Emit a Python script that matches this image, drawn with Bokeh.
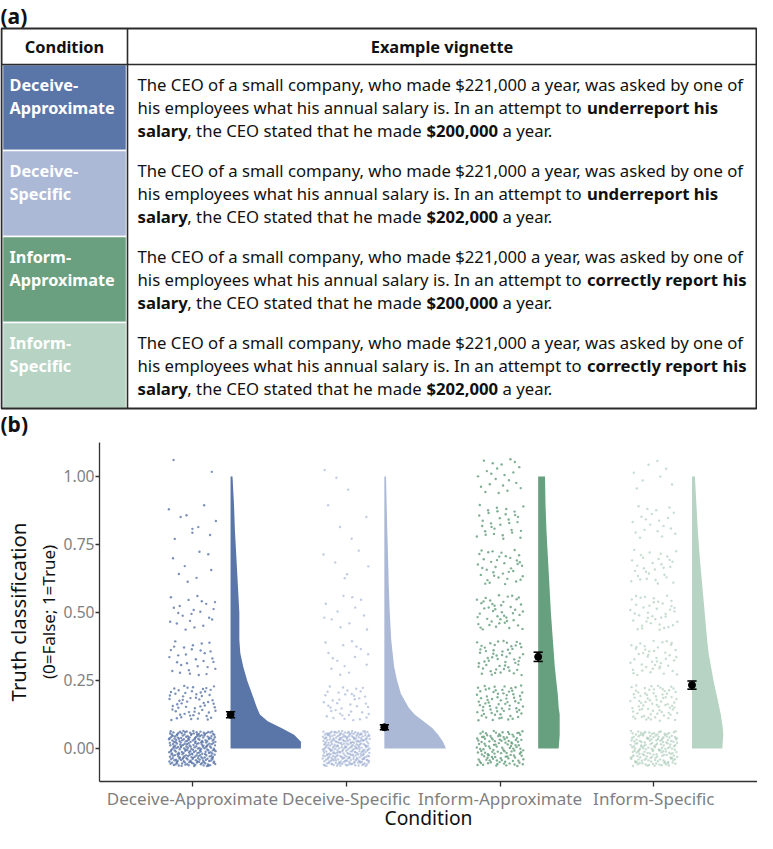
import os, struct, subprocess
from bokeh.plotting import figure
from bokeh.models import Range1d, FixedTicker, LinearAxis
from bokeh.layouts import column
from bokeh.embed import file_html
from bokeh.resources import INLINE
from bokeh.core.properties import value

# ---------------------------------------------------------------- data
CONDITIONS = ["Deceive-Approximate", "Deceive-Specific", "Inform-Approximate", "Inform-Specific"]
ROW_LABEL_LINES = [["Deceive-", "Approximate"], ["Deceive-", "Specific"],
                   ["Inform-", "Approximate"], ["Inform-", "Specific"]]
VIGNETTE_LINE1 = "The CEO of a small company, who made $221,000 a year, was asked by one of"
VIGNETTE_LINE2 = "his employees what his annual salary is. In an attempt to"
GOALS = ["underreport his", "underreport his", "correctly report his", "correctly report his"]
STATED = ["$200,000", "$202,000", "$200,000", "$202,000"]

RESPONSE_LEVELS = [0.0, 0.167, 0.333, 0.5, 0.667, 0.833, 1.0]
COUNTS_DA = [250, 60, 30, 22, 8, 10, 2]
COUNTS_DS = [290, 40, 15, 12, 6, 4, 3]
COUNTS_IA = [120, 70, 55, 45, 38, 32, 22]
COUNTS_IS = [170, 75, 45, 40, 30, 20, 8]

MEANS = [0.124, 0.078, 0.337, 0.233]
SES = [0.011, 0.009, 0.017, 0.015]

DENS_Y = [0.0, 0.025, 0.05, 0.075, 0.1, 0.125, 0.15, 0.2, 0.25, 0.3, 0.35, 0.4, 0.5, 0.6, 0.7, 0.8, 0.9, 1.0]
DENS_DA = [72, 72, 65, 52, 38, 30, 27, 22, 17, 13, 10, 9, 9, 7.5, 6, 4.5, 3.5, 2]
DENS_DS = [63, 60, 55, 49, 40, 31, 25, 17, 13, 10, 8.5, 7, 5.5, 4.5, 3.8, 3, 2.3, 1.7]
DENS_IA = [21, 21.5, 22, 22, 22, 22, 21, 20, 18.5, 17, 16, 15, 13, 11.5, 10, 8.5, 7.5, 7]
DENS_IS = [31, 31.5, 32, 31.5, 30.5, 29.5, 28, 25, 22, 19.5, 17, 15.5, 13, 10.5, 8, 6, 4.5, 3]

Y_TICKS = [0.0, 0.25, 0.5, 0.75, 1.0]

# ---------------------------------------------------------------- styles
CELL_COLORS = ["#5a75a8", "#abb8d6", "#6a9f80", "#b7d3c3"]
VIOLIN_COLORS = ["#5a75a8", "#abb8d6", "#66a07e", "#b7d3c3"]
POINT_COLORS = ["#4f6ca3", "#98aad0", "#559470", "#a2c6b1"]
POINT_ALPHA = [0.75, 0.6, 0.75, 0.6]
VIOLIN_SCALE = 1 / 157.3
VIOLIN_OFFSET = 0.248
JITTER_W = 0.153
JITTER_H = 0.065


# ---------------------------------------------------------------- font metrics (to place bold runs)
def _parse_widths(path):
    data = open(path, "rb").read()
    off = 0
    if data[:4] == b"ttcf":
        off = struct.unpack(">I", data[12:16])[0]
    ntab = struct.unpack(">H", data[off + 4:off + 6])[0]
    tables = {}
    for i in range(ntab):
        rec = data[off + 12 + 16 * i: off + 28 + 16 * i]
        tag = rec[:4].decode("latin1")
        _, toff, tlen = struct.unpack(">III", rec[4:])
        tables[tag] = toff
    upem = struct.unpack(">H", data[tables["head"] + 18: tables["head"] + 20])[0]
    nhm = struct.unpack(">H", data[tables["hhea"] + 34: tables["hhea"] + 36])[0]
    ho = tables["hmtx"]
    adv = [struct.unpack(">H", data[ho + 4 * i: ho + 4 * i + 2])[0] for i in range(nhm)]
    co = tables["cmap"]
    n = struct.unpack(">H", data[co + 2:co + 4])[0]
    sub = None
    for i in range(n):
        pid, eid, so = struct.unpack(">HHI", data[co + 4 + 8 * i: co + 12 + 8 * i])
        fmt = struct.unpack(">H", data[co + so: co + so + 2])[0]
        if fmt == 4 and pid in (0, 3):
            sub = co + so
            break
    segx2 = struct.unpack(">H", data[sub + 6:sub + 8])[0]
    segs = segx2 // 2
    ends = struct.unpack(">%dH" % segs, data[sub + 14: sub + 14 + segx2])
    starts = struct.unpack(">%dH" % segs, data[sub + 16 + segx2: sub + 16 + 2 * segx2])
    deltas = struct.unpack(">%dh" % segs, data[sub + 16 + 2 * segx2: sub + 16 + 3 * segx2])
    rpos = sub + 16 + 3 * segx2
    roffs = struct.unpack(">%dH" % segs, data[rpos: rpos + segx2])

    def glyph(c):
        for i in range(segs):
            if ends[i] >= c:
                if starts[i] > c:
                    return 0
                if roffs[i] == 0:
                    return (c + deltas[i]) & 0xFFFF
                addr = rpos + 2 * i + roffs[i] + 2 * (c - starts[i])
                g = struct.unpack(">H", data[addr:addr + 2])[0]
                return (g + deltas[i]) & 0xFFFF if g else 0
        return 0

    cache = {}

    def width(s):
        tot = 0.0
        for ch in s:
            if ch not in cache:
                gi = glyph(ord(ch))
                cache[ch] = adv[min(gi, nhm - 1)] / upem
            tot += cache[ch]
        return tot
    return width


def _fc(pattern):
    try:
        out = subprocess.run(["fc-match", "-f", "%{family}|%{file}", pattern],
                             capture_output=True, text=True, timeout=10).stdout.strip()
        fam, path = out.split("|", 1)
        return fam, path
    except Exception:
        return None, None


def _scan(names):
    for r in ["/usr/share/fonts", "/usr/local/share/fonts"]:
        if not os.path.isdir(r):
            continue
        for d, _, files in os.walk(r):
            for f in files:
                if f.lower() in names:
                    return os.path.join(d, f)
    return None


def _approx_bold(wr):
    same = set("0123456789$ ")

    def wb(s):
        return sum(wr(ch) * (1.0 if ch in same else 1.07) for ch in s)
    return wb


def _pick_font():
    for fam in ["Noto Sans", "Open Sans"]:
        try:
            f1, reg = _fc(fam + ":style=Regular")
            f2, bold = _fc(fam + ":style=Bold")
            if reg and f1 and fam.lower() in f1.lower() and os.path.exists(reg):
                wr = _parse_widths(reg)
                if bold and bold != reg and f2 and fam.lower() in f2.lower():
                    wb = _parse_widths(bold)
                else:
                    wb = _approx_bold(wr)
                wr("The CEO")
                return fam, wr, wb
        except Exception:
            continue
    try:
        return "Lato", _parse_widths(_scan({"lato-regular.ttf"})), _parse_widths(_scan({"lato-bold.ttf"}))
    except Exception:
        return "Lato", (lambda s: 0.47 * len(s)), (lambda s: 0.50 * len(s))


FONT, w_reg, w_bold = _pick_font()


def px(v):
    return "%.2fpx" % v


def no_align(p):
    try:
        p.frame_align = False
    except Exception:
        pass


# ---------------------------------------------------------------- (a) table   (data coords = page pixels)
TW, TH = 757, 440
Y0 = 8
p1 = figure(width=TW, height=TH, x_range=Range1d(3, 3 + TW), y_range=Range1d(Y0 + TH, Y0),
            output_backend="svg", toolbar_location=None, x_axis_type=None, y_axis_type=None,
            min_border=0, outline_line_color=None)
p1.grid.visible = False
no_align(p1)

T_LEFT, T_RIGHT, T_TOP, T_BOTTOM = 4, 759, 36, 416
HEAD_BOTTOM, COL_DIV = 72, 130
ROW_TOPS = [72, 158, 244, 330]
ROW_BOTTOMS = [158, 244, 330, 416]
LINE_STEP = 23
LINE1_Y = [t + 20 for t in ROW_TOPS]

p1.quad(left=[T_LEFT + 1] * 4, right=[COL_DIV - 1] * 4, top=ROW_TOPS, bottom=ROW_BOTTOMS,
        fill_color=CELL_COLORS, line_color="white", line_width=1.5)
p1.quad(left=[T_LEFT], right=[T_RIGHT], top=[T_TOP], bottom=[T_BOTTOM],
        fill_color=None, line_color="#2b2b2b", line_width=2)
p1.segment(x0=[T_LEFT, COL_DIV], x1=[T_RIGHT, COL_DIV], y0=[HEAD_BOTTOM, T_TOP], y1=[HEAD_BOTTOM, T_BOTTOM],
           line_color="#2b2b2b", line_width=1.6)

fs_head = min(18.0, 80 / w_bold("Condition"))
p1.text(x=[(T_LEFT + COL_DIV) / 2, (COL_DIV + T_RIGHT) / 2], y=[(T_TOP + HEAD_BOTTOM) / 2] * 2,
        text=["Condition", "Example vignette"], text_font=value(FONT), text_font_style="bold",
        text_font_size=value(px(fs_head)), text_align="center", text_baseline="middle", text_color="#111111")

p1.text(x=[3, 3], y=[23, 431], text=["(a)", "(b)"], text_font=value(FONT), text_font_style="bold",
        text_font_size=value("21px"), text_align="left", text_baseline="middle", text_color="#111111")

fs_lab = min(18.0, 106 / w_bold("Approximate"))
lab_x, lab_y, lab_t = [], [], []
for r, lines in enumerate(ROW_LABEL_LINES):
    for j, t in enumerate(lines):
        lab_x.append(12)
        lab_y.append(LINE1_Y[r] + j * LINE_STEP)
        lab_t.append(t)
p1.text(x=lab_x, y=lab_y, text=lab_t, text_font=value(FONT), text_font_style="bold",
        text_font_size=value(px(fs_lab)), text_align="left", text_baseline="middle", text_color="white")

X0 = 140
fs_v = max(13.0, min(17.8, 610 / w_reg(VIGNETTE_LINE1)))
reg_x, reg_y, reg_t = [], [], []
bold_x, bold_y, bold_t = [], [], []
for r in range(4):
    y1 = LINE1_Y[r]
    y2 = y1 + LINE_STEP
    y3 = y2 + LINE_STEP
    reg_x.append(X0); reg_y.append(y1); reg_t.append(VIGNETTE_LINE1)
    reg_x.append(X0); reg_y.append(y2); reg_t.append(VIGNETTE_LINE2)
    bold_x.append(X0 + w_reg(VIGNETTE_LINE2 + " ") * fs_v); bold_y.append(y2); bold_t.append(GOALS[r])
    x = X0
    bold_x.append(x); bold_y.append(y3); bold_t.append("salary")
    x += w_bold("salary") * fs_v
    mid = ", the CEO stated that he made"
    reg_x.append(x); reg_y.append(y3); reg_t.append(mid)
    x += w_reg(mid + " ") * fs_v
    bold_x.append(x); bold_y.append(y3); bold_t.append(STATED[r])
    x += w_bold(STATED[r]) * fs_v + w_reg(" ") * fs_v
    reg_x.append(x); reg_y.append(y3); reg_t.append("a year.")

p1.text(x=reg_x, y=reg_y, text=reg_t, text_font=value(FONT), text_font_size=value(px(fs_v)),
        text_align="left", text_baseline="middle", text_color="#111111")
p1.text(x=bold_x, y=bold_y, text=bold_t, text_font=value(FONT), text_font_style="bold",
        text_font_size=value(px(fs_v)), text_align="left", text_baseline="middle", text_color="#111111")

# ---------------------------------------------------------------- (b) raincloud plot
BW, BH = 757, 833 - TH
p2 = figure(width=BW, height=BH, x_range=Range1d(0.396, 4.674), y_range=Range1d(-0.1215, 1.125),
            output_backend="svg", toolbar_location=None,
            min_border_left=84, min_border_right=0, min_border_top=2, min_border_bottom=0,
            outline_line_color=None)
p2.grid.visible = False
no_align(p2)

dens_all = [DENS_DA, DENS_DS, DENS_IA, DENS_IS]
counts_all = [COUNTS_DA, COUNTS_DS, COUNTS_IA, COUNTS_IS]

for k in range(4):
    c = k + 1
    base = c + VIOLIN_OFFSET
    xs = [base] + [base + d * VIOLIN_SCALE for d in dens_all[k]] + [base]
    ys = [DENS_Y[0]] + DENS_Y + [DENS_Y[-1]]
    p2.patch(xs, ys, fill_color=VIOLIN_COLORS[k], line_color=None)


def halton(i, b):
    f, r = 1.0, 0.0
    while i > 0:
        f /= b
        r += f * (i % b)
        i //= b
    return r


# jittered raw responses (deterministic Halton jitter, display only)
for k in range(4):
    c = k + 1
    jx, jy = [], []
    for li, (lvl, n) in enumerate(zip(RESPONSE_LEVELS, counts_all[k])):
        for j in range(n):
            idx = 1 + j + 409 * li + 3001 * k
            jx.append(c + (halton(idx, 2) - 0.5) * 2 * JITTER_W)
            jy.append(lvl + (halton(idx, 3) - 0.5) * 2 * JITTER_H)
    p2.scatter(jx, jy, size=2.4, fill_color=POINT_COLORS[k], line_color=None, fill_alpha=POINT_ALPHA[k])

ex = [k + 1 + VIOLIN_OFFSET for k in range(4)]
lo = [m - s for m, s in zip(MEANS, SES)]
hi = [m + s for m, s in zip(MEANS, SES)]
p2.segment(x0=ex, x1=ex, y0=lo, y1=hi, line_color="black", line_width=1.6)
cap = 0.03
p2.segment(x0=[e - cap for e in ex] * 2, x1=[e + cap for e in ex] * 2, y0=lo + hi, y1=lo + hi,
           line_color="black", line_width=1.6)
p2.scatter(ex, MEANS, size=7, fill_color="black", line_color="black")

fs_xt = min(18.5, 172 / w_reg("Deceive-Approximate"))
fs_yt = min(18.5, 31 / w_reg("0.00"))
fs_xl = min(23.0, 88 / w_reg("Condition"))
fs_yl = min(23.0, 180 / w_reg("Truth classification"))
fs_ys = min(17.0, 148 / w_reg("(0=False; 1=True)"))

for ax in (p2.xaxis[0], p2.yaxis[0]):
    ax.axis_line_color = "#333333"
    ax.axis_line_width = 1.3
    ax.major_tick_line_color = "#333333"
    ax.major_tick_line_width = 1.3
    ax.minor_tick_line_color = None
    ax.major_tick_in = 0
    ax.major_label_text_color = "#7f7f7f"
    ax.major_label_text_font = FONT
    ax.axis_label_text_font = FONT
    ax.axis_label_text_font_style = "normal"
    ax.axis_label_text_color = "#111111"

xa = p2.xaxis[0]
xa.ticker = FixedTicker(ticks=[1, 2, 3, 4])
xa.major_label_overrides = {k + 1: name for k, name in enumerate(CONDITIONS)}
xa.major_tick_out = 5
xa.major_label_standoff = 0
xa.major_label_text_font_size = px(fs_xt)
xa.axis_label = "Condition"
xa.axis_label_text_font_size = px(fs_xl)
xa.axis_label_standoff = -9

ya = p2.yaxis[0]
ya.ticker = FixedTicker(ticks=Y_TICKS)
ya.major_label_overrides = {t: "%.2f" % t for t in Y_TICKS}
ya.major_tick_out = 4
ya.major_label_standoff = 1
ya.major_label_text_font_size = px(fs_yt)
ya.axis_label = "(0=False; 1=True)"
ya.axis_label_text_font_size = px(fs_ys)
ya.axis_label_standoff = 1

ya2 = LinearAxis(ticker=FixedTicker(ticks=[]), axis_label="Truth classification",
                 axis_line_color=None, major_tick_line_color=None, minor_tick_line_color=None,
                 major_tick_out=0, major_tick_in=0, major_label_standoff=0,
                 axis_label_text_font=FONT, axis_label_text_font_style="normal",
                 axis_label_text_font_size=px(fs_yl), axis_label_text_color="#111111",
                 axis_label_standoff=2, major_label_text_font_size="0px")
p2.add_layout(ya2, "left")

layout = column(p1, p2)
open("out.html", "w").write(file_html(layout, INLINE))
